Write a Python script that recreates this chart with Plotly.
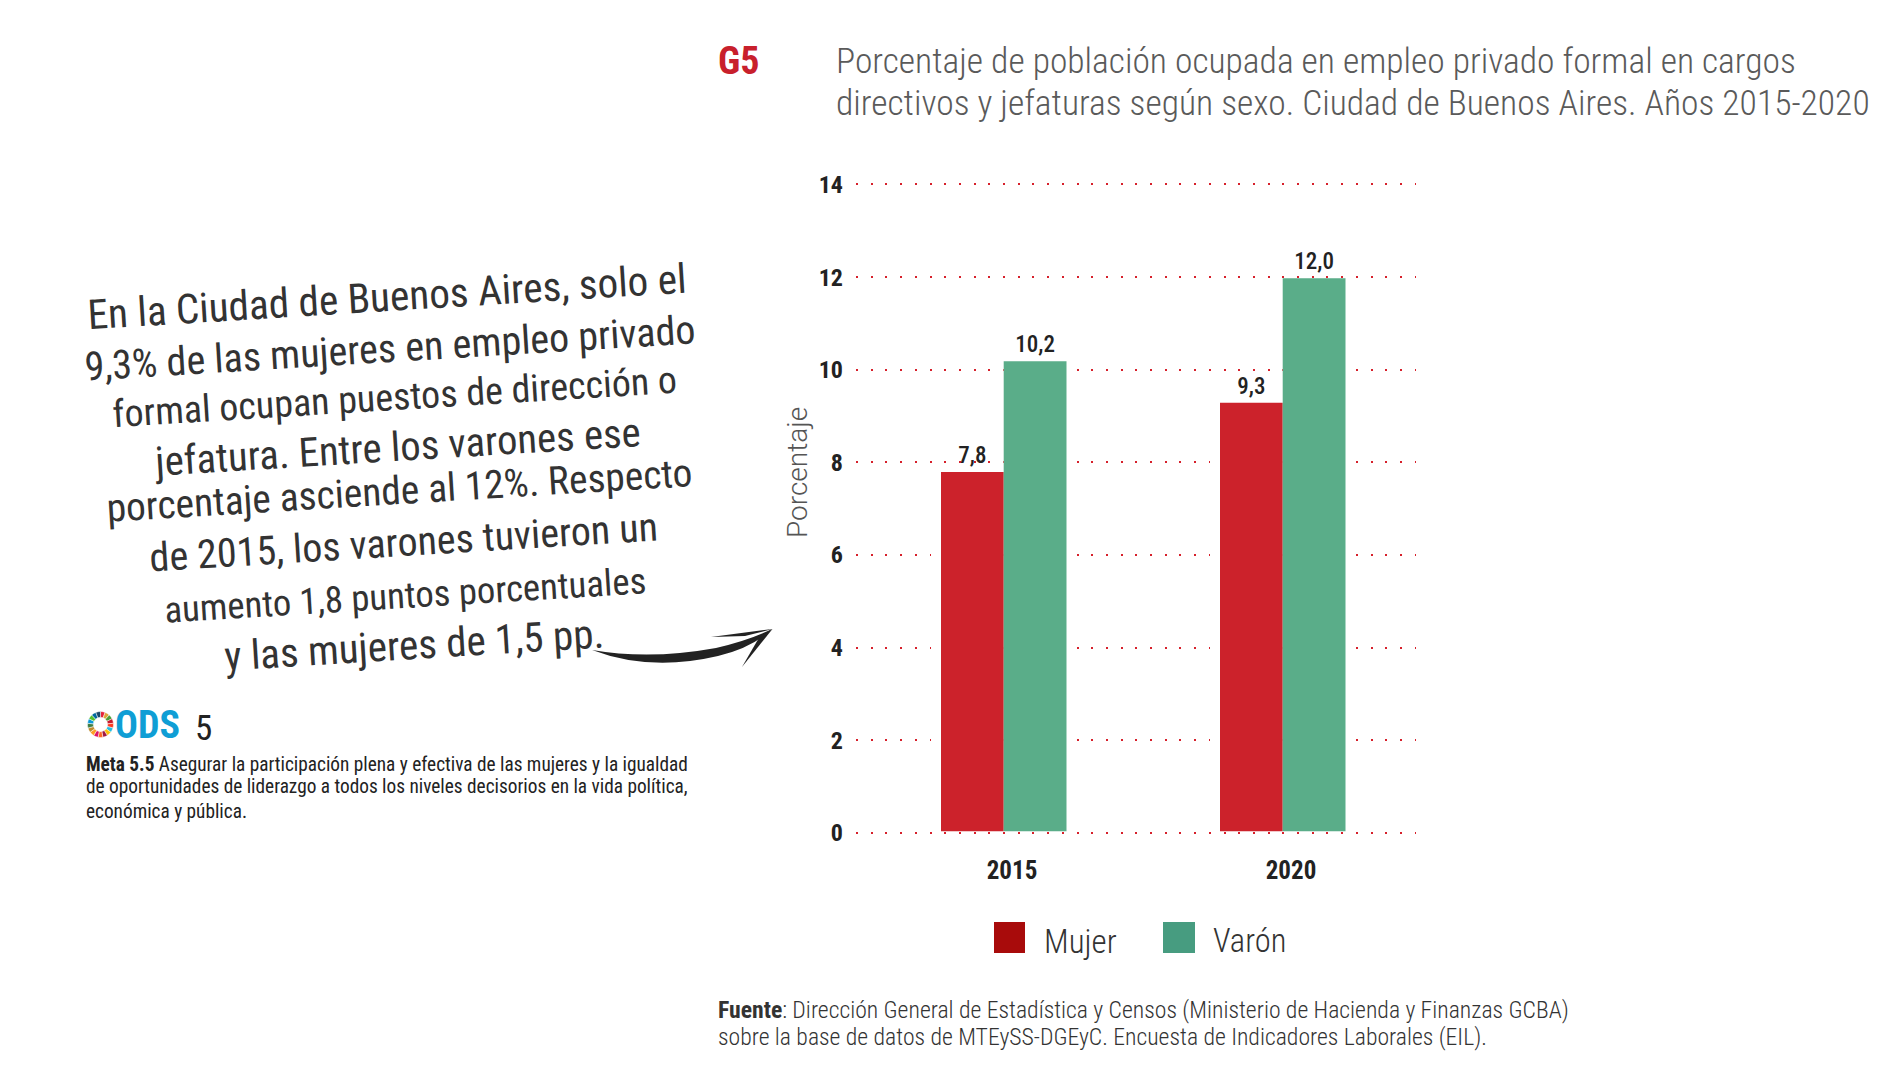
import plotly.graph_objects as go

W, H = 1903, 1083

# ---- data ----
years = ["2015", "2020"]
mujer = [7.8, 9.3]
varon = [10.2, 12.0]
y_ticks = [0, 2, 4, 6, 8, 10, 12, 14]
legend_labels = ["Mujer", "Varón"]
axis_label = "Porcentaje"
title_lines = ["Porcentaje de población ocupada en empleo privado formal en cargos",
               "directivos y jefaturas según sexo. Ciudad de Buenos Aires. Años 2015-2020"]
source_lines = ["<b>Fuente</b>: Dirección General de Estadística y Censos (Ministerio de Hacienda y Finanzas GCBA)",
                "sobre la base de datos de MTEySS-DGEyC. Encuesta de Indicadores Laborales (EIL)."]
hand_lines = ["En la Ciudad de Buenos Aires, solo el",
              "9,3% de las mujeres en empleo privado",
              "formal ocupan puestos de dirección o",
              "jefatura. Entre los varones ese",
              "porcentaje asciende al 12%. Respecto",
              "de 2015, los varones tuvieron un",
              "aumento 1,8 puntos porcentuales",
              "y las mujeres de 1,5 pp."]
meta_lines = ["<b>Meta 5.5</b> Asegurar la participación plena y efectiva de las mujeres y la igualdad",
              "de oportunidades de liderazgo a todos los niveles decisorios en la vida política,",
              "económica y pública."]
sdg_colors = ["#e5243b", "#dda63a", "#4c9f38", "#c5192d", "#ff3a21", "#26bde2", "#fcc30b", "#a21942", "#fd6925",
              "#dd1367", "#fd9d24", "#bf8b2e", "#3f7e44", "#0a97d9", "#56c02b", "#00689d", "#19486a"]
sdg_shares = [1] * 17

# ---- styles / layout ----
NARROW = "Roboto Condensed, sans-serif"
LIGHT = "Roboto Light, Roboto, sans-serif"
BAR_RED, BAR_GREEN = "#cc222b", "#5aad89"
SW_RED, SW_GREEN = "#a80b0b", "#479c80"
INK = "#222222"


def px(x):
    return x / W


def py(y):
    return 1 - y / H


annotations = []


def note(text, x, y, size, color=INK, anchor="left", angle=0, family=NARROW, weight=None):
    font = dict(family=family, size=size, color=color)
    if weight:
        font["weight"] = weight
    annotations.append(dict(text=text, x=px(x), y=py(y), xref="paper", yref="paper", xanchor=anchor, yanchor="middle",
                            showarrow=False, textangle=angle, font=font))


note("<b>G5</b>", 716, 61, 38, "#c8202c")
for line, y in zip(title_lines, [61, 103.5]):
    note(line, 834, y, 35.5, "#5a5a5a", weight=300)
for line, y in zip(source_lines, [1010, 1037]):
    note(line, 716, y, 23.7, "#333333", weight=300)
hand_x = [387, 390, 394, 397, 399, 403, 405, 414]
hand_y = [297, 348, 397, 447, 490, 542, 595, 645]
hand_size = [41.2, 40.1, 38, 40.7, 39.4, 40, 36.7, 41]
for line, x, y, s in zip(hand_lines, hand_x, hand_y, hand_size):
    note(line, x, y, s, "#333333", anchor="center", angle=-3.5)
for line, y in zip(meta_lines, [764, 787, 811]):
    note(line, 84, y, 19.3, "#222222")
note("<b>ODS</b>", 113, 725, 38, "#0f9ed5")
note("5", 203, 728, 35, INK, anchor="center")
note(axis_label, 797, 473, 28, "#555555", anchor="center", angle=-90, family=LIGHT)
note(legend_labels[0], 1042, 941, 33, "#333333", weight=300)
note(legend_labels[1], 1211, 941, 32.5, "#333333", weight=300)


def rect(x0, y0, x1, y1, color):
    return dict(type="rect", xref="paper", yref="paper", x0=px(x0), x1=px(x1), y0=py(y0), y1=py(y1),
                fillcolor=color, line=dict(width=0))


def path(cmds, color):
    s = " ".join(c + " " + " ".join(f"{px(p[0]):.5f} {py(p[1]):.5f}" for p in pts) for c, pts in cmds)
    return dict(type="path", xref="paper", yref="paper", path=s + " Z", fillcolor=color, line=dict(width=0))


shapes = [
    rect(994, 922, 1025, 953, SW_RED),
    rect(1163, 922, 1195, 953, SW_GREEN),
    path([("M", [(592, 650)]), ("Q", [(650, 660), (716, 648)]), ("Q", [(750, 640), (772, 629)]),
          ("Q", [(752, 648), (718, 656)]), ("Q", [(650, 672), (592, 650)])], INK),
    path([("M", [(772.5, 629)]), ("L", [(711, 637)]), ("L", [(745, 636)])], INK),
    path([("M", [(772.5, 629)]), ("L", [(742, 667)]), ("L", [(760, 636)])], INK),
]

# pixel layout of the plot
X0, X1 = 856, 1416
UNIT = 279.0          # px between the two year positions
XT0 = 1012            # px of first year label
positions = [0, 1]
Y_ZERO, Y_TOP = 833.0, 184.5   # px of 0 and 14 on the grid axis
Y_PAD = 0.1                    # keeps the 0 and 14 gridlines inside the axis range
PER_UNIT = (Y_ZERO - Y_TOP) / 14


def u(p):
    return p / UNIT


bar_m_off = u(941 - XT0)
bar_w = u(1003.7 - 941)
bar_v_off = u(1003.7 - XT0)
bar_v_w = u(1066.5 - 1003.7)

fig = go.Figure()
# holds the dotted-grid axis
fig.add_scatter(x=[positions[0]] * len(y_ticks), y=y_ticks, mode="markers", marker=dict(opacity=0), showlegend=False, hoverinfo="skip")
# white clearing that interrupts the dotted grid on both sides of each pair of bars
fig.add_bar(x=positions, y=mujer, yaxis="y2", offset=u(931 - XT0), width=u(1003.7 - 931), marker=dict(color="white", line=dict(width=0)),
            showlegend=False, hoverinfo="skip")
fig.add_bar(x=positions, y=varon, yaxis="y2", offset=u(1003.7 - XT0), width=u(1074 - 1003.7), marker=dict(color="white", line=dict(width=0)),
            showlegend=False, hoverinfo="skip")


def labels(vals):
    return [f"{v:.1f}".replace(".", ",") for v in vals]


LABEL_FONT = dict(family=NARROW, size=23, color=INK, weight=500)
fig.add_bar(x=positions, y=mujer, yaxis="y2", name=legend_labels[0], offset=bar_m_off, width=bar_w,
            marker=dict(color=BAR_RED, line=dict(width=0)), text=labels(mujer), textposition="outside", cliponaxis=False,
            textfont=LABEL_FONT, showlegend=False)
fig.add_bar(x=positions, y=varon, yaxis="y2", name=legend_labels[1], offset=bar_v_off, width=bar_v_w,
            marker=dict(color=BAR_GREEN, line=dict(width=0)), text=labels(varon), textposition="outside", cliponaxis=False,
            textfont=LABEL_FONT, showlegend=False)

# ODS wheel
fig.add_pie(values=sdg_shares, marker=dict(colors=sdg_colors, line=dict(color="white", width=0.5)), hole=0.55, sort=False,
            direction="clockwise", textinfo="none", showlegend=False, hoverinfo="skip",
            domain=dict(x=[px(87.5), px(113.5)], y=[py(737.5), py(711.5)]))

TICK_FONT = dict(family=NARROW, size=24, color=INK, weight=700)
fig.update_layout(
    width=W, height=H, autosize=False, margin=dict(l=0, r=0, t=0, b=0, pad=0),
    paper_bgcolor="white", plot_bgcolor="rgba(0,0,0,0)", barmode="overlay", showlegend=False,
    xaxis=dict(domain=[px(X0), px(X1)], range=[u(X0 - XT0), u(X1 - XT0)], tickvals=positions, ticktext=years, automargin=False,
               showgrid=False, zeroline=False, showline=False, ticks="", ticklabelstandoff=15,
               tickfont=dict(family=NARROW, size=25, color=INK, weight=700), anchor="y"),
    yaxis=dict(domain=[py(Y_ZERO + Y_PAD * PER_UNIT), py(Y_TOP - Y_PAD * PER_UNIT)], range=[-Y_PAD, 14 + Y_PAD], tickvals=y_ticks,
               showgrid=True, gridcolor="#d6202b", gridwidth=2, griddash="2px,12.7px", zeroline=False, showline=False, automargin=False,
               ticks="", ticklabelstandoff=12, tickfont=TICK_FONT),
    yaxis2=dict(domain=[py(831.5), py(831.5 - 14 * 46.1)], range=[0, 14], anchor="x", visible=False, automargin=False,
                showgrid=False, zeroline=False),
    annotations=annotations, shapes=shapes,
)

fig.write_html("out.html", config={"displayModeBar": False}, post_script="document.body.style.margin='0';")
